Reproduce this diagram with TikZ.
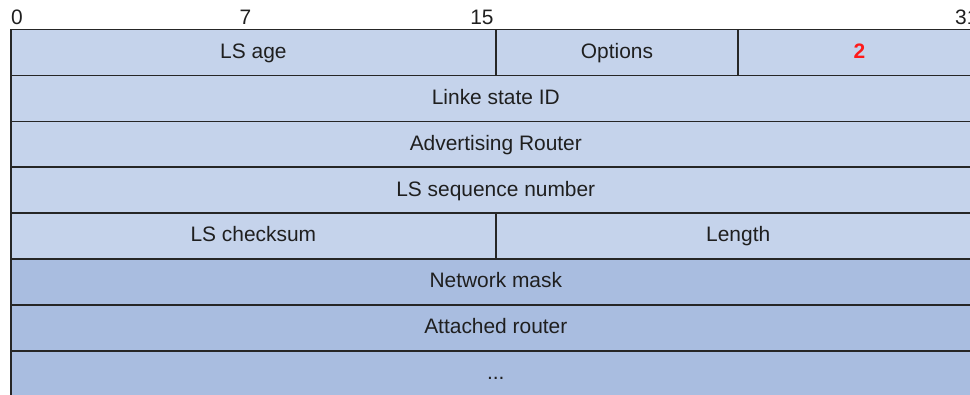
\documentclass[tikz,border=0pt]{standalone}
\usepackage{fontspec}
\setmainfont{Liberation Sans}
\definecolor{hdrblue}{HTML}{C5D3EB}
\definecolor{bodyblue}{HTML}{A9BDE0}
\definecolor{optred}{HTML}{FF1A1A}

\begin{document}
\begin{tikzpicture}[x=30.3bp, y=-45.9bp,
  every node/.style={font=\fontsize{21}{25}\selectfont, text=black!88},
  field/.style={draw=black!85, line width=1.5bp, fill=hdrblue, minimum height=45.9bp,
    inner sep=0pt, outer sep=0pt, text height=15bp, text depth=3.3bp},
  body/.style={field, fill=bodyblue},
  bitnum/.style={inner sep=0pt, inner xsep=2bp}]
\useasboundingbox (-0.363,-0.643) rectangle (31.65,7.941);
% bit ruler
\node[bitnum, inner xsep=0pt, anchor=base west] (bit0) at (0,-0.1) {0};
\node[bitnum, anchor=base east] (bit7) at (8,-0.1) {7};
\node[bitnum, anchor=base east] (bit15) at (16,-0.1) {15};
\node[bitnum, anchor=base east] (bit31) at (32,-0.1) {31};
% LSA header
\node[field, minimum width=16*30.3bp] (age) at (8,0.5) {LS age};
\node[field, minimum width=8*30.3bp] (opts) at (20,0.5) {Options};
\node[field, minimum width=8*30.3bp, text=optred, font=\fontsize{21}{25}\selectfont\bfseries] (type) at (28,0.5) {2};
\node[field, minimum width=32*30.3bp] (lsid) at (16,1.5) {Linke state ID};
\node[field, minimum width=32*30.3bp] (advr) at (16,2.5) {Advertising Router};
\node[field, minimum width=32*30.3bp] (seq) at (16,3.5) {LS sequence number};
\node[field, minimum width=16*30.3bp] (csum) at (8,4.5) {LS checksum};
\node[field, minimum width=16*30.3bp] (len) at (24,4.5) {Length};
% network LSA body
\node[body, minimum width=32*30.3bp] (mask) at (16,5.5) {Network mask};
\node[body, minimum width=32*30.3bp] (attr) at (16,6.5) {Attached router};
\node[body, minimum width=32*30.3bp] (more) at (16,7.5) {...};
\end{tikzpicture}
\end{document}
